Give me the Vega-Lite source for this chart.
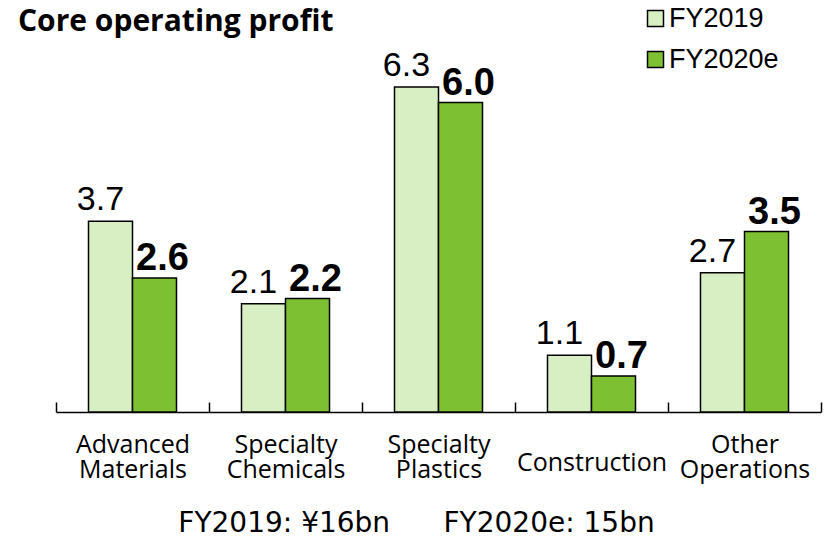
{
  "$schema": "https://vega.github.io/schema/vega-lite/v6.json",
  "width": 765,
  "height": 361,
  "autosize": "none",
  "padding": {"left": 56, "top": 51, "right": 3, "bottom": 125},
  "background": "white",
  "config": {"view": {"stroke": null}},
  "title": {
    "text": "Core operating profit",
    "anchor": "start",
    "frame": "group",
    "dx": -38,
    "dy": 75,
    "font": "Open Sans",
    "fontSize": 30,
    "fontWeight": "bold",
    "color": "black",
    "baseline": "alphabetic",
    "offset": 19
  },
  "data": {
    "values": [
      {"segment": "Advanced Materials", "series": "FY2019", "value": 3.7},
      {"segment": "Advanced Materials", "series": "FY2020e", "value": 2.6},
      {"segment": "Specialty Chemicals", "series": "FY2019", "value": 2.1},
      {"segment": "Specialty Chemicals", "series": "FY2020e", "value": 2.2},
      {"segment": "Specialty Plastics", "series": "FY2019", "value": 6.3},
      {"segment": "Specialty Plastics", "series": "FY2020e", "value": 6.0},
      {"segment": "Construction", "series": "FY2019", "value": 1.1},
      {"segment": "Construction", "series": "FY2020e", "value": 0.7},
      {"segment": "Other Operations", "series": "FY2019", "value": 2.7},
      {"segment": "Other Operations", "series": "FY2020e", "value": 3.5}
    ]
  },
  "encoding": {
    "x": {
      "field": "segment",
      "type": "nominal",
      "sort": null,
      "scale": {"paddingInner": 0, "paddingOuter": 0},
      "axis": {
        "title": "FY2019: ¥16bn\u00a0\u00a0\u00a0\u00a0\u00a0\u00a0FY2020e: 15bn",
        "titleFont": "DejaVu Sans",
        "titleFontSize": 28,
        "titleFontWeight": "normal",
        "titleColor": "black",
        "titleX": 360,
        "titleY": 119,
        "titleBaseline": "alphabetic",
        "titleAlign": "center",
        "labelAngle": 0,
        "labelFont": "Open Sans",
        "labelFontSize": 25,
        "labelColor": "black",
        "labelLineHeight": 25,
        "labelBaseline": "alphabetic",
        "labelPadding": {"condition": {"test": "datum.value === 'Construction'", "value": 68}, "value": 50},
        "labelLimit": 0,
        "labelExpr": "split(datum.label, ' ')",
        "tickBand": "extent",
        "tickSize": -10,
        "tickColor": "black",
        "tickWidth": 1.5,
        "domainColor": "black",
        "domainWidth": 1.5
      }
    },
    "xOffset": {
      "field": "series",
      "type": "nominal",
      "sort": null,
      "scale": {"paddingInner": 0, "paddingOuter": 0.7386}
    },
    "y": {
      "field": "value",
      "type": "quantitative",
      "scale": {"domain": [0, 7], "nice": false, "zero": true},
      "axis": null
    }
  },
  "layer": [
    {
      "mark": {"type": "bar", "stroke": "black", "strokeWidth": 1.5},
      "encoding": {
        "fill": {
          "field": "series",
          "type": "nominal",
          "scale": {"domain": ["FY2019", "FY2020e"], "range": ["#d8efc3", "#7dc133"]},
          "legend": {
            "title": null,
            "orient": "none",
            "legendX": 586,
            "legendY": -46,
            "direction": "vertical",
            "symbolType": "square",
            "symbolSize": 256,
            "symbolStrokeColor": "black",
            "symbolStrokeWidth": 1.5,
            "labelFont": "Liberation Sans",
            "labelFontSize": 27,
            "labelColor": "black",
            "labelOffset": 0,
            "rowPadding": 13,
            "padding": 0
          }
        }
      }
    },
    {
      "transform": [{"filter": "datum.series === 'FY2019'"}],
      "mark": {"type": "text", "font": "Liberation Sans", "fontSize": 34, "dx": -10, "dy": -11, "baseline": "alphabetic", "color": "black"},
      "encoding": {"text": {"field": "value", "type": "quantitative", "format": ".1f"}}
    },
    {
      "transform": [{"filter": "datum.series === 'FY2020e'"}],
      "mark": {"type": "text", "font": "Liberation Sans", "fontSize": 38, "fontWeight": "bold", "dx": 8, "dy": -8, "baseline": "alphabetic", "color": "black"},
      "encoding": {"text": {"field": "value", "type": "quantitative", "format": ".1f"}}
    }
  ]
}
